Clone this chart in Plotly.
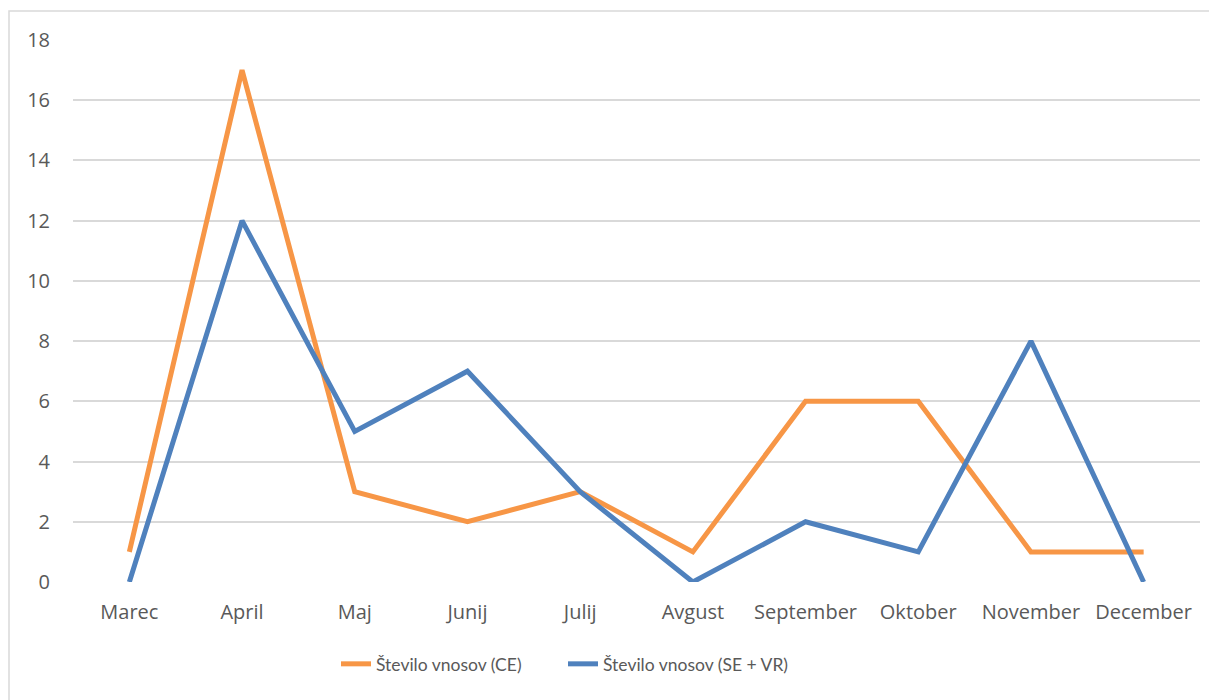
import plotly.graph_objects as go

months = ["Marec", "April", "Maj", "Junij", "Julij", "Avgust", "September", "Oktober", "November", "December"]
ce_values = [1, 17, 3, 2, 3, 1, 6, 6, 1, 1]
sevr_values = [0, 12, 5, 7, 3, 0, 2, 1, 8, 0]
series_names = ["Število vnosov (CE)", "Število vnosov (SE + VR)"]
y_ticks = [0, 2, 4, 6, 8, 10, 12, 14, 16, 18]

# page has an 8px body margin
W, H = 1209, 692
L, R, T, B = 65, 17, 32, 118
pw, ph = W - L - R, H - T - B

fig = go.Figure()
fig.add_trace(go.Scatter(x=months, y=ce_values, mode="lines", name=series_names[0],
                         line=dict(color="#F79646", width=5)))
fig.add_trace(go.Scatter(x=months, y=sevr_values, mode="lines", name=series_names[1],
                         line=dict(color="#4F81BD", width=5)))

font = dict(family="'Open Sans', sans-serif", size=20, color="#595959")

fig.update_layout(
    width=W, height=H,
    margin=dict(l=L, r=R, t=T, b=B, pad=0),
    paper_bgcolor="white", plot_bgcolor="white",
    font=font,
    showlegend=True,
    legend=dict(orientation="h", x=(336 - 73) / pw, xanchor="left", y=-0.118, yanchor="top",
                font=dict(family="Lato, sans-serif", size=17.5, color="#595959"),
                entrywidth=182, entrywidthmode="pixels", tracegroupgap=0),
    xaxis=dict(type="category", range=[-0.5, 9.5], showgrid=False, zeroline=False,
               showline=False, ticks="", tickfont=font, ticklabelstandoff=16),
    yaxis=dict(range=[0, 18], tickvals=y_ticks, showgrid=True, gridcolor="#D9D9D9",
               gridwidth=1.5, zeroline=False, showline=False, ticks="", tickfont=font,
               ticklabelstandoff=22),
    shapes=[dict(type="rect", xref="paper", yref="paper",
                 x0=(1 - L) / pw, x1=(1240 - L) / pw,
                 y0=-(720 - T - ph) / ph, y1=1 + (T - 3) / ph,
                 line=dict(color="#D9D9D9", width=1.5), fillcolor="rgba(0,0,0,0)", layer="below")],
)

fig.write_html("out.html")
